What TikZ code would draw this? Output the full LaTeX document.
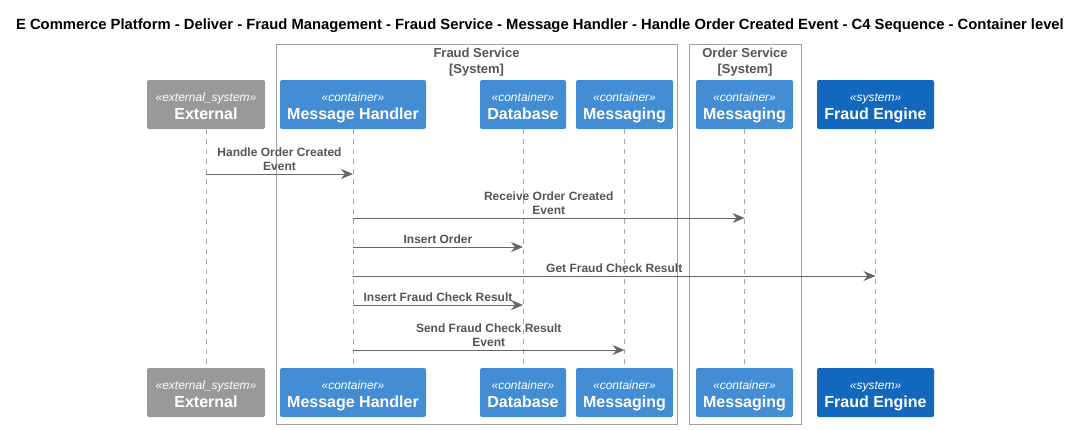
\documentclass[tikz,border=0pt]{standalone}
\usepackage{fontspec}
\setmainfont{Liberation Sans}
\usetikzlibrary{arrows.meta}

\definecolor{extgray}{HTML}{999999}
\definecolor{contblue}{HTML}{438DD5}
\definecolor{sysblue}{HTML}{1168BD}
\definecolor{linegray}{HTML}{666666}
\definecolor{lifegray}{HTML}{A8A8A8}
\definecolor{framegray}{HTML}{A0A0A0}
\definecolor{labelgray}{HTML}{555555}

\newcommand{\stereofont}{\fontsize{12}{13}\selectfont\itshape\mdseries\rule{0pt}{15pt}}

\tikzset{
  box/.style={rounded corners=2pt, text=white, align=center, minimum height=49pt,
    inner sep=0pt, font=\fontsize{16}{18}\selectfont\bfseries,
    execute at end node={\rule[-4pt]{0pt}{4pt}}},
  ext/.style={box, fill=extgray},
  cont/.style={box, fill=contblue},
  sys/.style={box, fill=sysblue},
  frame/.style={draw=framegray, line width=0.8pt},
  frametitle/.style={text=labelgray, align=center, font=\fontsize{13}{16}\selectfont\bfseries},
  lifeline/.style={draw=lifegray, line width=0.7pt, dash pattern=on 5pt off 5pt},
  msg/.style={draw=linegray, line width=0.8pt, -{Stealth[length=12pt, width=10pt, inset=4pt]}},
  msglabel/.style={text=labelgray, align=center, font=\fontsize{12}{14}\selectfont\bfseries, inner sep=0pt}
}

\begin{document}
\begin{tikzpicture}[x=1pt, y=-1pt]
  \useasboundingbox (0,0) rectangle (1082,429);

  % title
  \node[font=\fontsize{14.8}{17}\selectfont\bfseries] (title) at (540,26)
    {E Commerce Platform - Deliver - Fraud Management - Fraud Service - Message Handler - Handle Order Created Event - C4 Sequence - Container level};

  % system boundaries
  \draw[frame] (276,44) rectangle (677,424);
  \draw[frame] (689,44) rectangle (801,424);
  \node[frametitle] (fraudsvc) at (476.5,62) {Fraud Service\\{}[System]};
  \node[frametitle] (ordersvc) at (745,62) {Order Service\\{}[System]};

  % participants, top row
  \node[ext, minimum width=118pt] (ext) at (206,104.5) {{\stereofont «external\_system»}\\External};
  \node[cont, minimum width=146pt] (hdl) at (353,104.5) {{\stereofont «container»}\\Message Handler};
  \node[cont, minimum width=86pt] (db) at (523,104.5) {{\stereofont «container»}\\Database};
  \node[cont, minimum width=97pt] (fmsg) at (624.5,104.5) {{\stereofont «container»}\\Messaging};
  \node[cont, minimum width=97pt] (omsg) at (744.5,104.5) {{\stereofont «container»}\\Messaging};
  \node[sys, minimum width=117pt] (eng) at (875.5,104.5) {{\stereofont «system»}\\Fraud Engine};

  % participants, bottom row
  \node[ext, minimum width=118pt] (extb) at (206,392.5) {{\stereofont «external\_system»}\\External};
  \node[cont, minimum width=146pt] (hdlb) at (353,392.5) {{\stereofont «container»}\\Message Handler};
  \node[cont, minimum width=86pt] (dbb) at (523,392.5) {{\stereofont «container»}\\Database};
  \node[cont, minimum width=97pt] (fmsgb) at (624.5,392.5) {{\stereofont «container»}\\Messaging};
  \node[cont, minimum width=97pt] (omsgb) at (744.5,392.5) {{\stereofont «container»}\\Messaging};
  \node[sys, minimum width=117pt] (engb) at (875.5,392.5) {{\stereofont «system»}\\Fraud Engine};

  % lifelines
  \draw[lifeline] (ext) -- (extb);
  \draw[lifeline] (hdl) -- (hdlb);
  \draw[lifeline] (db) -- (dbb);
  \draw[lifeline] (fmsg) -- (fmsgb);
  \draw[lifeline] (omsg) -- (omsgb);
  \draw[lifeline] (eng) -- (engb);

  % messages
  \draw[msg] (ext.south |- 0,174) -- (hdl.south |- 0,174)
    node[msglabel, midway, above=3pt] {Handle Order Created\\Event};
  \draw[msg] (hdl.south |- 0,218) -- (omsg.south |- 0,218)
    node[msglabel, midway, above=3pt] {Receive Order Created\\Event};
  \draw[msg] (hdl.south |- 0,247) -- (db.south |- 0,247)
    node[msglabel, midway, above=3pt] {Insert Order};
  \draw[msg] (hdl.south |- 0,276) -- (eng.south |- 0,276)
    node[msglabel, midway, above=3pt] {Get Fraud Check Result};
  \draw[msg] (hdl.south |- 0,305) -- (db.south |- 0,305)
    node[msglabel, midway, above=3pt] {Insert Fraud Check Result};
  \draw[msg] (hdl.south |- 0,350) -- (fmsg.south |- 0,350)
    node[msglabel, midway, above=3pt] {Send Fraud Check Result\\Event};

\end{tikzpicture}
\end{document}
